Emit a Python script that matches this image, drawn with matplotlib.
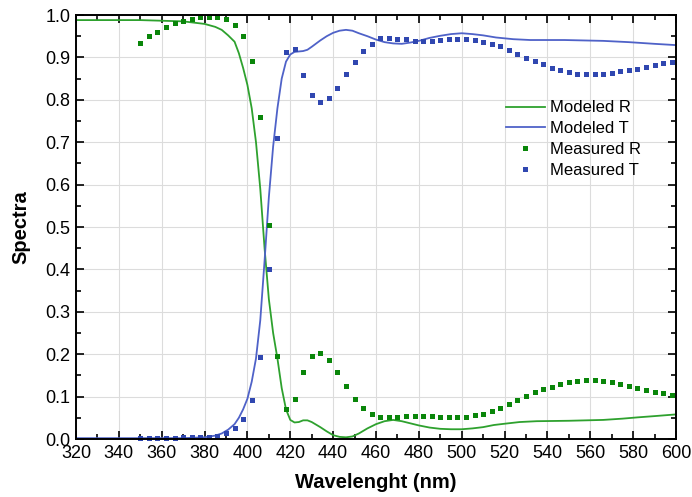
import matplotlib.pyplot as plt
import numpy as np

plt.rcParams['font.family'] = ['Liberation Sans', 'DejaVu Sans']

# Modeled reflectance / transmittance.
wl_model_r = [320, 350, 370, 380, 385, 388, 391, 394, 396, 398, 400, 402, 404, 406, 408,
              410, 412, 414, 416, 418, 420, 422, 424, 426, 428, 430, 432, 434, 437, 440,
              443, 446, 449, 452, 456, 460, 464, 468, 472, 476, 480, 485, 490, 495, 500,
              505, 510, 515, 520, 527, 535, 550, 566, 575, 582, 590, 600]
model_r = [0.988, 0.988, 0.985, 0.979, 0.972, 0.965, 0.952, 0.937, 0.910, 0.875, 0.835,
           0.780, 0.700, 0.590, 0.450, 0.330, 0.250, 0.190, 0.120, 0.070, 0.045, 0.039,
           0.040, 0.044, 0.044, 0.040, 0.034, 0.028, 0.018, 0.009, 0.005, 0.004, 0.006,
           0.013, 0.025, 0.035, 0.042, 0.045, 0.042, 0.037, 0.032, 0.027, 0.024, 0.023,
           0.023, 0.025, 0.028, 0.033, 0.036, 0.040, 0.042, 0.043, 0.045, 0.048, 0.051,
           0.054, 0.058]

wl_model_t = [320, 350, 370, 380, 385, 388, 391, 394, 396, 398, 400, 402, 404, 406, 408,
              410, 412, 414, 416, 418, 420, 422, 424, 426, 428, 430, 434, 437, 440, 443,
              446, 449, 452, 456, 460, 464, 468, 472, 476, 480, 485, 490, 495, 500, 505,
              510, 516, 524, 532, 548, 566, 578, 590, 600]
model_t = [0.002, 0.002, 0.002, 0.004, 0.008, 0.013, 0.022, 0.035, 0.050, 0.070, 0.095,
           0.135, 0.190, 0.280, 0.420, 0.570, 0.690, 0.780, 0.850, 0.890, 0.907, 0.913,
           0.914, 0.915, 0.918, 0.925, 0.940, 0.950, 0.958, 0.963, 0.965, 0.963, 0.957,
           0.950, 0.942, 0.936, 0.933, 0.932, 0.935, 0.939, 0.946, 0.951, 0.955, 0.957,
           0.955, 0.952, 0.947, 0.943, 0.941, 0.941, 0.939, 0.936, 0.932, 0.929]

# Measured data, every 4 nm from 350 to 598 nm.
wl_meas = np.arange(350, 599, 4)
meas_r = [0.935, 0.950, 0.960, 0.972, 0.980, 0.986, 0.991, 0.995, 0.995, 0.995, 0.991,
          0.977, 0.951, 0.892, 0.760, 0.505, 0.196, 0.070, 0.094, 0.159, 0.196, 0.202,
          0.186, 0.157, 0.125, 0.094, 0.073, 0.058, 0.053, 0.051, 0.053, 0.054, 0.055,
          0.055, 0.054, 0.053, 0.052, 0.051, 0.053, 0.056, 0.060, 0.066, 0.072, 0.083,
          0.091, 0.101, 0.110, 0.117, 0.123, 0.130, 0.134, 0.137, 0.138, 0.138, 0.136,
          0.134, 0.130, 0.125, 0.120, 0.115, 0.112, 0.108, 0.104]
meas_t = [0.003, 0.003, 0.003, 0.003, 0.003, 0.004, 0.004, 0.004, 0.004, 0.008, 0.013,
          0.025, 0.046, 0.091, 0.193, 0.400, 0.709, 0.913, 0.920, 0.858, 0.811, 0.796,
          0.805, 0.829, 0.861, 0.890, 0.915, 0.932, 0.945, 0.945, 0.943, 0.943, 0.939,
          0.939, 0.939, 0.941, 0.943, 0.944, 0.943, 0.941, 0.937, 0.932, 0.926, 0.917,
          0.908, 0.899, 0.892, 0.884, 0.876, 0.870, 0.865, 0.862, 0.861, 0.861, 0.862,
          0.864, 0.867, 0.870, 0.873, 0.877, 0.882, 0.886, 0.890]

green_line = '#2ea12e'
green_dot = '#0a860a'
blue_line = '#4f62c8'
blue_dot = '#3047b0'

fig = plt.figure(figsize=(6.92, 4.97), dpi=100)
ax = fig.add_axes([0.1098, 0.1167, 0.8671, 0.8531])

ax.plot(wl_model_r, model_r, color=green_line, lw=1.3, label='Modeled R')
ax.plot(wl_model_t, model_t, color=blue_line, lw=1.3, label='Modeled T')
ax.plot(wl_meas, meas_r, 's', color=green_dot, ms=3.6, mew=0, label='Measured R',
        clip_on=False)
ax.plot(wl_meas, meas_t, 's', color=blue_dot, ms=3.6, mew=0, label='Measured T',
        clip_on=False)

ax.set_xlim(320, 600)
ax.set_ylim(0, 1.0)
ax.set_xticks(np.arange(320, 601, 20))
ax.set_xticks(np.arange(330, 600, 20), minor=True)
ax.set_yticks(np.arange(0, 1.01, 0.1))
ax.set_yticks(np.arange(0.05, 1.0, 0.1), minor=True)
ax.yaxis.set_major_formatter(plt.FormatStrFormatter('%.1f'))
ax.grid(True, which='major', color='#dcdcdc', lw=0.8)
ax.set_axisbelow(True)

ax.tick_params(which='both', direction='in', top=True, right=True, labelsize=13,
               width=1.2, pad=4)
ax.tick_params(which='major', length=6)
ax.tick_params(which='minor', length=3.5)
for s in ax.spines.values():
    s.set_linewidth(1.4)

ax.set_xlabel('Wavelenght (nm)', fontsize=14.5, fontweight='bold', labelpad=8)
ax.set_ylabel('Spectra', fontsize=14.5, fontweight='bold', labelpad=11)

ax.legend(loc='upper left', bbox_to_anchor=(0.691, 0.834), frameon=False, fontsize=12,
          handlelength=2.35, handletextpad=0.3, labelspacing=0.35, numpoints=1)

fig.savefig('out.png', dpi=100)
